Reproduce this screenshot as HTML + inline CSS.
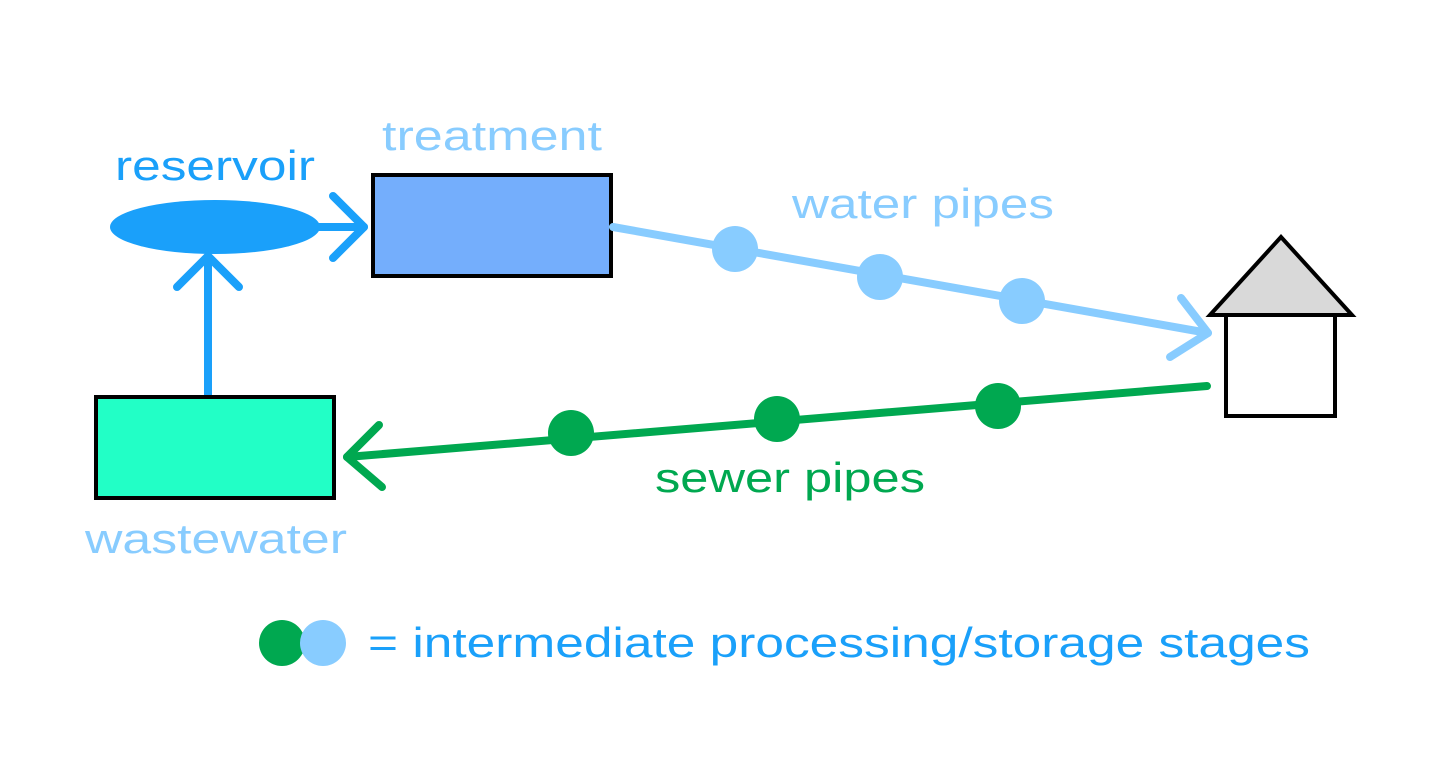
<!DOCTYPE html>
<html><head><meta charset="utf-8"><style>html,body{margin:0;padding:0;background:#fff}</style></head>
<body>
<svg width="1433" height="776" viewBox="0 0 1433 776" xmlns="http://www.w3.org/2000/svg" font-family="Liberation Sans, sans-serif" font-size="42">
<rect width="1433" height="776" fill="#fff"/>
<ellipse cx="215" cy="227" rx="105" ry="27" fill="#1aa0fa"/>
<text x="115" y="180" fill="#1aa0fa" textLength="200" lengthAdjust="spacingAndGlyphs">reservoir</text>
<line x1="315" y1="227" x2="364" y2="227" stroke="#1aa0fa" stroke-width="8" stroke-linecap="round"/>
<polyline points="333,196 364,227 333,258" fill="none" stroke="#1aa0fa" stroke-width="8" stroke-linecap="round" stroke-linejoin="round"/>
<rect x="373" y="175" width="238" height="101" fill="#74aefc" stroke="#000" stroke-width="4"/>
<text x="382" y="150" fill="#88ccff" textLength="220" lengthAdjust="spacingAndGlyphs">treatment</text>
<line x1="208" y1="396" x2="208" y2="258" stroke="#1aa0fa" stroke-width="8" stroke-linecap="round"/>
<polyline points="177,287 208,256 239,287" fill="none" stroke="#1aa0fa" stroke-width="8" stroke-linecap="round" stroke-linejoin="round"/>
<rect x="96" y="397" width="238" height="101" fill="#22ffc6" stroke="#000" stroke-width="4"/>
<text x="85" y="553" fill="#88ccff" textLength="262" lengthAdjust="spacingAndGlyphs">wastewater</text>
<line x1="613" y1="227" x2="1208" y2="333" stroke="#88ccff" stroke-width="8" stroke-linecap="round"/>
<polyline points="1181,298 1208,333 1170,357" fill="none" stroke="#88ccff" stroke-width="8" stroke-linecap="round" stroke-linejoin="round"/>
<circle cx="735" cy="249" r="23" fill="#88ccff"/>
<circle cx="880" cy="277" r="23" fill="#88ccff"/>
<circle cx="1022" cy="301" r="23" fill="#88ccff"/>
<text x="792" y="218" fill="#88ccff" textLength="262" lengthAdjust="spacingAndGlyphs">water pipes</text>
<polygon points="1210,315 1281,237 1352,315" fill="#d9d9d9" stroke="#000" stroke-width="4"/>
<rect x="1226" y="315" width="109" height="101" fill="#fff" stroke="#000" stroke-width="4"/>
<line x1="1207" y1="386" x2="347" y2="457" stroke="#00a850" stroke-width="8" stroke-linecap="round"/>
<polyline points="379,425 347,457 382,487" fill="none" stroke="#00a850" stroke-width="8" stroke-linecap="round" stroke-linejoin="round"/>
<circle cx="571" cy="433" r="23" fill="#00a850"/>
<circle cx="777" cy="419" r="23" fill="#00a850"/>
<circle cx="998" cy="406" r="23" fill="#00a850"/>
<text x="655" y="492" fill="#00a850" textLength="270" lengthAdjust="spacingAndGlyphs">sewer pipes</text>
<circle cx="282" cy="643" r="23" fill="#00a850"/>
<circle cx="323" cy="643" r="23" fill="#88ccff"/>
<text x="368" y="657" fill="#1aa0fa" textLength="942" lengthAdjust="spacingAndGlyphs">= intermediate processing/storage stages</text>
</svg>
</body></html>
